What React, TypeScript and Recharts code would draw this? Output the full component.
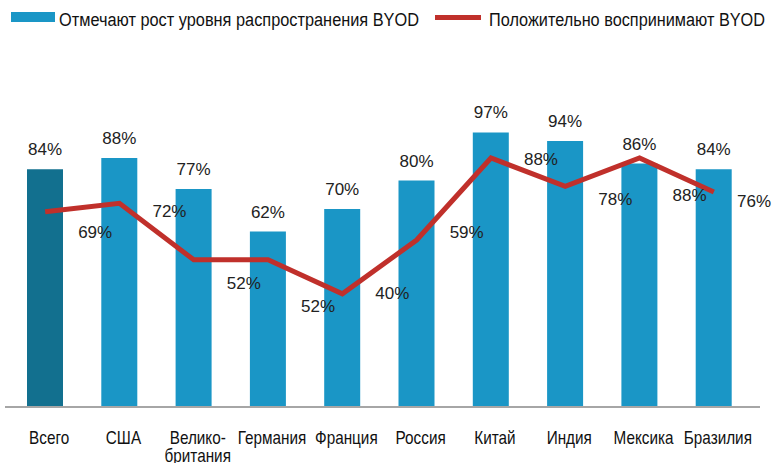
import React from "react";
import { Bar, Cell, ComposedChart, LabelList, Line, XAxis, YAxis } from "recharts";

const countries = ["Всего", "США", "Велико-\nбритания", "Германия", "Франция", "Россия", "Китай", "Индия", "Мексика", "Бразилия"];
const growth = [84, 88, 77, 62, 70, 80, 97, 94, 86, 84];
const positive = [69, 72, 52, 52, 40, 59, 88, 78, 88, 76];

const data = countries.map((c, i) => ({ name: c, growth: growth[i], positive: positive[i] }));

const DARK = "#12708f";
const BLUE = "#1a96c6";
const RED = "#c0302b";
const SANS = "'Liberation Sans', Arial, sans-serif";

// line labels sit to the lower right of each point, as in the original slide
const LABEL_DY = [20, 8, 23, 46, -1, -8, 1, 13, 37, 9];

function CatTick({ x, y, payload }: any) {
  const lines = String(payload.value).split("\n");
  return (
    <g transform={`translate(${x + 4},${y + 29}) scale(0.85,1)`}>
      <text x={0} y={0} textAnchor="middle" fontFamily={SANS} fontSize={18} fill="#111">
        {lines.map((l, i) => (
          <tspan key={i} x={0} dy={i === 0 ? 0 : 18}>
            {l}
          </tspan>
        ))}
      </text>
    </g>
  );
}

function LineLabel({ x, y, value, index }: any) {
  const lx = Math.min(x + 50, 754);
  return (
    <text x={lx} y={y + LABEL_DY[index] + 6} textAnchor="middle" fontFamily={SANS} fontSize={17} fill="#222">
      {value}%
    </text>
  );
}

function LegendBox() {
  return (
    <svg width={772} height={40} style={{ position: "absolute", left: 0, top: 0 }}>
      <rect x={11} y={12} width={44} height={10} fill={BLUE} />
      <text x={59} y={26} fontFamily={SANS} fontSize={18} fill="#111" textLength={360} lengthAdjust="spacingAndGlyphs">
        Отмечают рост уровня распространения BYOD
      </text>
      <rect x={435} y={15} width={46} height={5} fill={RED} />
      <text x={489} y={26} fontFamily={SANS} fontSize={18} fill="#111" textLength={276} lengthAdjust="spacingAndGlyphs">
        Положительно воспринимают BYOD
      </text>
    </svg>
  );
}

export default function App() {
  return (
    <div style={{ position: "fixed", left: 0, top: 0, width: 772, height: 463, background: "#fff" }}>
      <LegendBox />
      <ComposedChart width={772} height={463} data={data} margin={{ top: 124, right: 12, bottom: 0, left: 5 }}>
        <XAxis
          dataKey="name"
          height={56}
          interval={0}
          padding={{ left: 3, right: 9 }}
          tickLine={false}
          axisLine={{ stroke: "#a6a6a6", strokeWidth: 2 }}
          tick={<CatTick />}
        />
        <YAxis hide domain={[0, 100]} />
        <Bar dataKey="growth" barSize={36} isAnimationActive={false}>
          {data.map((_, i) => (
            <Cell key={i} fill={i === 0 ? DARK : BLUE} />
          ))}
          <LabelList
            dataKey="growth"
            position="top"
            offset={14}
            formatter={(v: any) => `${v}%`}
            style={{ fontFamily: SANS, fontSize: 17, fill: "#222" }}
          />
        </Bar>
        <Line
          dataKey="positive"
          stroke={RED}
          strokeWidth={5}
          dot={false}
          activeDot={false}
          type="linear"
          isAnimationActive={false}
        >
          <LabelList dataKey="positive" content={<LineLabel />} />
        </Line>
      </ComposedChart>
    </div>
  );
}
